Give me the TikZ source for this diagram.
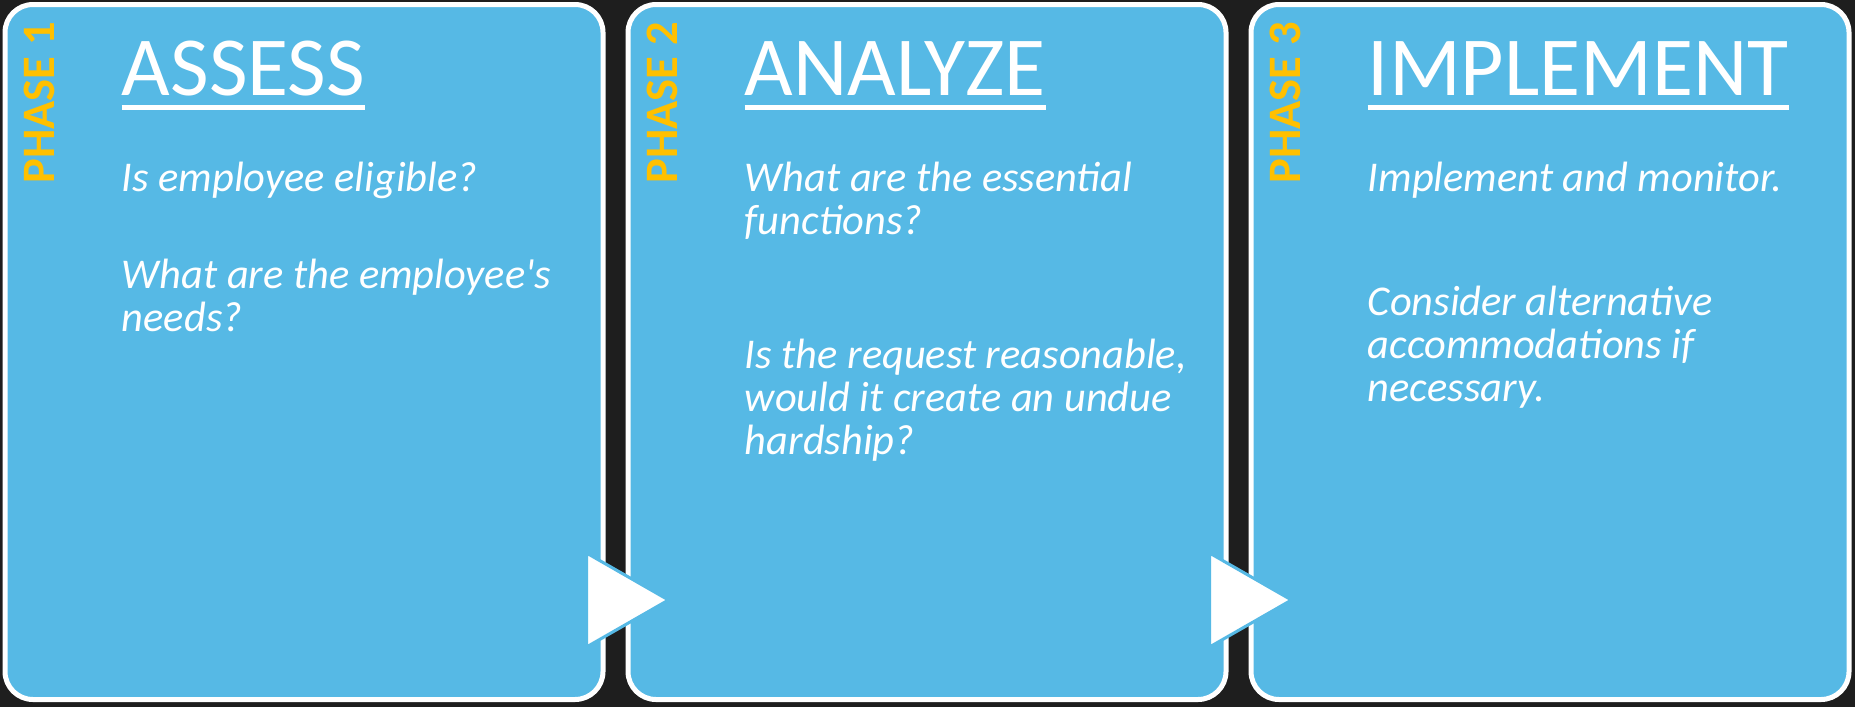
\documentclass[tikz,border=0pt]{standalone}
\usepackage{fontspec}
\setmainfont{Carlito}
\usetikzlibrary{positioning,calc}
\definecolor{skyblue}{HTML}{56B9E5}
\definecolor{phasegold}{HTML}{FFC000}
\definecolor{board}{HTML}{1E1E1E}
\newcommand{\qpar}[1]{\parbox[t]{240pt}{\raggedright #1}}

\begin{document}
\begin{tikzpicture}[x=0.5pt,y=-0.5pt,
 phasebox/.style={draw=white,line width=\mylinewidth,fill=skyblue,rounded corners=14pt,
  minimum width=299pt,minimum height=347.5pt,inner sep=0pt},
 phaselbl/.style={rotate=90,anchor=base east,inner sep=0pt,text=phasegold,
  font=\bfseries\fontsize{23.25}{24}\selectfont},
 ttl/.style={anchor=base west,inner sep=0pt,text=white,font=\fontsize{42}{44}\selectfont},
 body/.style={anchor=base west,inner sep=0pt,text=white,
  font=\itshape\fontsize{21.2}{21.6}\selectfont},
 nextarrow/.style={fill=white,draw=skyblue,line width=1.5pt,line join=miter},
 ]
 \def\mylinewidth{2.5pt}
 \useasboundingbox (0,0) rectangle (1855,707);
 \fill[board] (0,0) rectangle (1855,707);
 % the three phase cards
 \node[phasebox] (box1) at (304,352) {};
 \node[phasebox,right=10pt of box1] (box2) {};
 \node[phasebox,right=10pt of box2] (box3) {};
 \foreach \i/\name in {1/ASSESS,2/ANALYZE,3/IMPLEMENT}
 {\node[phaselbl] (lbl\i) at ($(box\i.north west)+(52,20)$) {PHASE \i};
  \node[ttl] (ttl\i) at ($(box\i.north west)+(119,93)$) {\name};
  \draw[white,line width=\mylinewidth] ($(ttl\i.base west)+(0,12)$) -- ($(ttl\i.base east)+(0,12)$);
 }
 % questions
 \node[body] (q1a) at ($(box1.north west)+(119,189)$) {\qpar{Is employee eligible?}};
 \node[body] (q1b) at ($(box1.north west)+(119,286)$) {\qpar{What are the employee\textquotesingle s\\needs?}};
 \node[body] (q2a) at ($(box2.north west)+(119,189)$) {\qpar{What are the essential\\functions?}};
 \node[body] (q2b) at ($(box2.north west)+(119,366)$) {\qpar{Is the request reasonable,\\would it create an undue\\hardship?}};
 \node[body] (q3a) at ($(box3.north west)+(119,189)$) {\qpar{Implement and monitor.}};
 \node[body] (q3b) at ($(box3.north west)+(119,313)$) {\qpar{Consider alternative\\accommodations if\\necessary.}};
 % arrows between the cards
 \foreach \i in {1,2}
 {\filldraw[nextarrow] ($(box\i.south east)+(-19,-149)$) -- ($(box\i.south east)+(-19,-55)$)
  -- ($(box\i.south east)+(63,-102)$) -- cycle;}
\end{tikzpicture}
\end{document}
